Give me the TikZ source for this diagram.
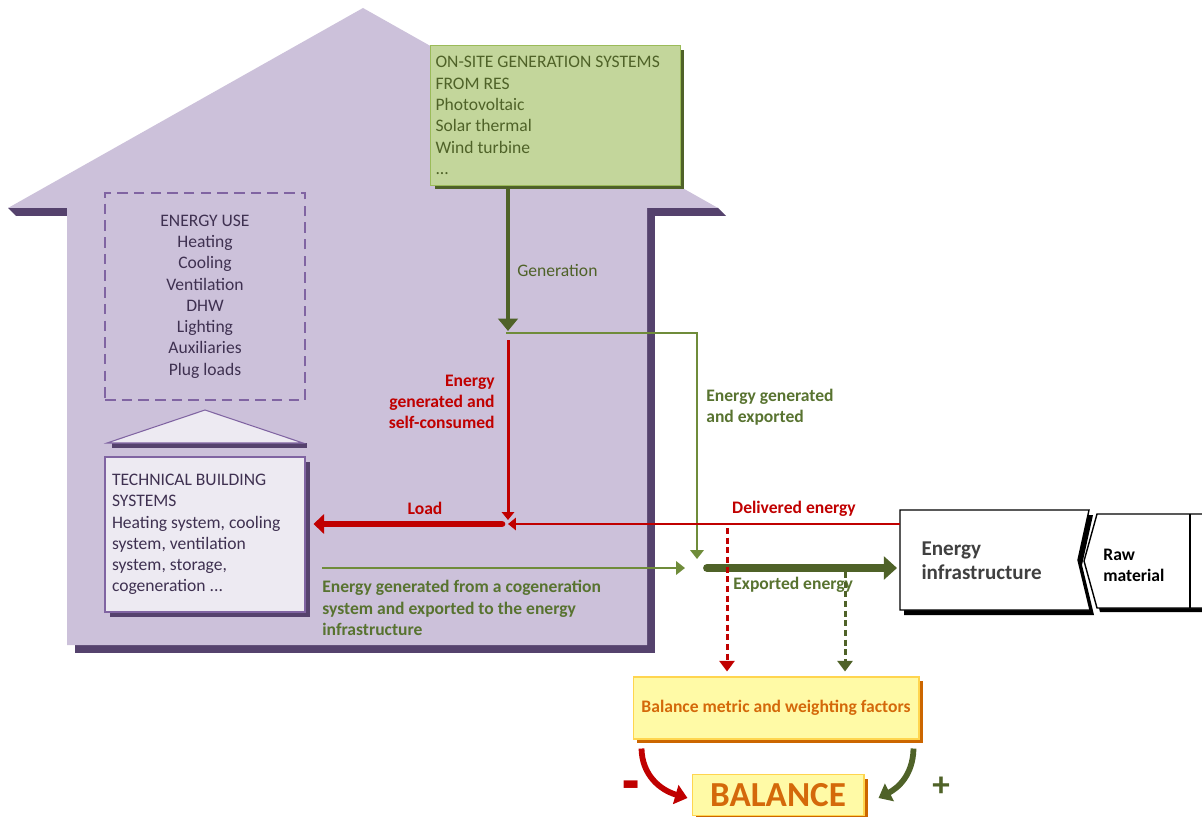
\documentclass[tikz,border=0pt]{standalone}
\usepackage{fontspec}
\setmainfont{Carlito}
\usetikzlibrary{arrows.meta,shadows,calc,scopes}
\definecolor{house}{HTML}{CCC1DA}
\definecolor{houseshadow}{HTML}{55426D}
\definecolor{txtpurple}{HTML}{3F3151}
\definecolor{framepurple}{HTML}{8064A2}
\definecolor{tbsfill}{HTML}{EDEAF2}
\definecolor{resfill}{HTML}{C3D69B}
\definecolor{resframe}{HTML}{9BBB59}
\definecolor{dkgreen}{HTML}{4F6228}
\definecolor{ltgreen}{HTML}{6F8C3A}
\definecolor{lblgreen}{HTML}{587330}
\definecolor{dkred}{HTML}{C00000}
\definecolor{yelfill}{HTML}{FFFAA6}
\definecolor{yelframe}{HTML}{FFD54F}
\definecolor{balorange}{HTML}{D4690A}
\definecolor{shadoworange}{HTML}{CC6600}
\definecolor{infragray}{HTML}{404040}
\begin{document}
\begin{tikzpicture}[x=0.02cm,y=-0.02cm,
    box/.style={rectangle,inner sep=0pt,line width=0.6pt,font=\fontsize{10}{12.1}\selectfont},
    resbox/.style={box,draw=resframe,fill=resfill,text=dkgreen,align=flush left,
        inner xsep=0.1cm,text width=4.8cm,minimum height=2.8cm,
        drop shadow={shadow xshift=0.08cm,shadow yshift=-0.08cm,fill=dkgreen,opacity=1}},
    usebox/.style={box,draw=framepurple,dash pattern=on 6pt off 3.5pt,text=txtpurple,
        align=flush center,minimum width=4cm,minimum height=4.14cm},
    tbsbox/.style={box,draw=framepurple,fill=tbsfill,text=txtpurple,align=flush left,
        inner xsep=0.14cm,text width=3.72cm,minimum height=3.1cm,
        drop shadow={shadow xshift=0.1cm,shadow yshift=-0.1cm,fill=houseshadow,opacity=1}},
    yelbox/.style={box,draw=yelframe,fill=yelfill,text=balorange,
        font=\bfseries\fontsize{10}{12}\selectfont,
        drop shadow={shadow xshift=0.08cm,shadow yshift=-0.08cm,fill=shadoworange,opacity=1}},
    infrabox/.style={box,align=flush left,inner xsep=0.42cm,text width=2.96cm,minimum height=2cm,
        text=infragray,font=\bfseries\fontsize{12}{13.6}\selectfont},
    lbl/.style={inner sep=0pt,font=\bfseries\fontsize{10}{12.1}\selectfont},
    genflow/.style={draw=dkgreen,line width=2.8pt,-{Triangle[width=11pt,length=7pt]}},
    expflow/.style={draw=ltgreen,line width=1.6pt,-{Triangle[width=7.5pt,length=5pt]}},
    selfflow/.style={draw=dkred,line width=1.7pt,-{Triangle[width=7pt,length=4.5pt]}},
    loadflow/.style={draw=dkred,line width=3.8pt,line cap=round,-{Triangle[width=11pt,length=6pt]}},
    outflow/.style={draw=dkgreen,line width=4.5pt,line cap=round,-{Triangle[width=13pt,length=7.5pt]}},
    weight/.style={line width=1.7pt,dash pattern=on 3.5pt off 2pt,-{Triangle[width=8.5pt,length=6pt]}},
    sign/.style={line width=3.3pt,-{Triangle[width=11pt,length=7pt]}},
]
\useasboundingbox (0,0) rectangle (1202,817);

	% house
	{[fill=houseshadow]
	\fill (8,208) -- (718,208) -- (726,216) -- (16,216) -- cycle; % eaves
	\fill (75,216) rectangle (655,653); % walls
	}
	\fill[house] (8,208) -- (363,8) -- (718,208) -- (647,208) -- (647,645) -- (67,645) -- (67,208) -- cycle;

	% small roof
	\fill[houseshadow] (112,443) rectangle (307,448);
	\filldraw[draw=framepurple,fill=tbsfill,line width=0.6pt] (107,443) -- (205,410) -- (303,443) -- cycle;

	\node[resbox,anchor=north west] (res) at (430,45) {ON-SITE GENERATION SYSTEMS\\FROM RES\\Photovoltaic\\Solar thermal\\Wind turbine\\...};
	\node[usebox] (use) at (205,296.5) {ENERGY USE\\Heating\\Cooling\\Ventilation\\DHW\\Lighting\\Auxiliaries\\Plug loads};
	\node[tbsbox] (tbs) at (205,534.5) {TECHNICAL BUILDING\\SYSTEMS\\Heating system, cooling\\system, ventilation\\system, storage,\\cogeneration ...};

	% energy infrastructure
	\draw[line width=0.8pt,fill=white,drop shadow={shadow xshift=0.08cm,shadow yshift=-0.1cm,fill=black,opacity=1}]
		(900,510) -- (1089,510) -- (1078,560) -- (1090,610) -- (900,610) -- cycle;
	\node[infrabox,anchor=north west] (infra) at (900,510) {Energy\\infrastructure};
	\begin{scope}
	\clip (0,0) rectangle (1202,817);
	\draw[line width=0.8pt,fill=white,drop shadow={shadow xshift=0.06cm,shadow yshift=-0.08cm,fill=black,opacity=1}]
		(1097,514) -- (1215,514) -- (1215,608) -- (1097,608) -- (1084,561) -- cycle;
	\draw[line width=0.8pt] (1190,514) -- (1190,608);
	\end{scope}
	\node[lbl,anchor=west,align=flush left] (raw) at (1103,565) {Raw\\material};

	% balance
	\node[yelbox,minimum width=5.72cm,minimum height=1.24cm] (metric) at (776,708) {Balance metric and weighting factors};
	\node[yelbox,minimum width=3.44cm,minimum height=0.82cm,font=\bfseries\fontsize{20}{20}\selectfont] (balance) at (778,795) {BALANCE};

	% flows
	\coordinate (fork) at (508,333);
	\coordinate (load) at (508,524);
	\coordinate (hub) at (697,568);
	\coordinate (cogen) at (322,568);
	\coordinate (dlv) at (727,528);
	\coordinate (xpt) at (845,572);
	\draw[genflow] (res.south -| fork) -- ($(fork)+(0,-2)$);
	\draw[expflow] ($(fork)+(-2,0)$) -| ($(hub)+(0,-9)$);
	\draw[selfflow] ($(fork)+(0,7)$) -- ($(load)+(0,-4)$);
	\draw[selfflow] (infra.west |- load) -- (load);
	\draw[loadflow] ($(load)+(-6,0)$) -- ($(tbs.east |- load)+(8,0)$);
	\draw[expflow] (cogen) -- ($(hub)+(-12,0)$);
	\draw[outflow] ($(hub)+(10,0)$) -- ($(infra.west |- hub)+(-3,0)$);

	% labels
	\node[inner sep=0pt,anchor=west,text=dkgreen,font=\fontsize{10}{12}\selectfont] (genlbl) at (517,270) {Generation};
	{[lbl]
	\node[text=dkred,align=flush right,anchor=east] (selflbl) at (495,402) {Energy\\generated and\\self-consumed};
	\node[text=lblgreen,align=flush left,anchor=west] (explbl) at (706,407) {Energy generated\\and exported};
	\node[text=dkred] (loadlbl) at (425,508) {Load};
	\node[text=dkred] (dlvlbl) at (794,509) {Delivered energy};
	\node[text=lblgreen,anchor=west] (outlbl) at (733,585) {Exported energy};
	\node[text=lblgreen,align=flush left,anchor=west] (cogenlbl) at (322,608) {Energy generated from a cogeneration\\system and exported to the energy\\infrastructure};
	}

	\draw[weight,draw=dkred] (dlv) -- ($(metric.north -| dlv)+(0,-5)$);
	\draw[weight,draw=dkgreen] (xpt) -- ($(metric.north -| xpt)+(0,-5)$);

	% signs
	\draw[sign,draw=dkred] ($(metric.south west)+(9,9)$) .. controls (642,775) and (660,790) .. ($(balance.west)+(-4,3)$);
	\draw[sign,draw=dkgreen] ($(metric.south east)+(-6,9)$) .. controls (913,775) and (898,788) .. ($(balance.east)+(14,3)$);
	\node[text=dkred,anchor=base,inner sep=0pt,font=\bfseries\fontsize{32}{32}\selectfont] (minus) at (631,805) {\scalebox{1}[1.3]{-}};
	\node[text=dkgreen,font=\bfseries\fontsize{20}{20}\selectfont] (plus) at (941,787) {+};

\end{tikzpicture}
\end{document}
